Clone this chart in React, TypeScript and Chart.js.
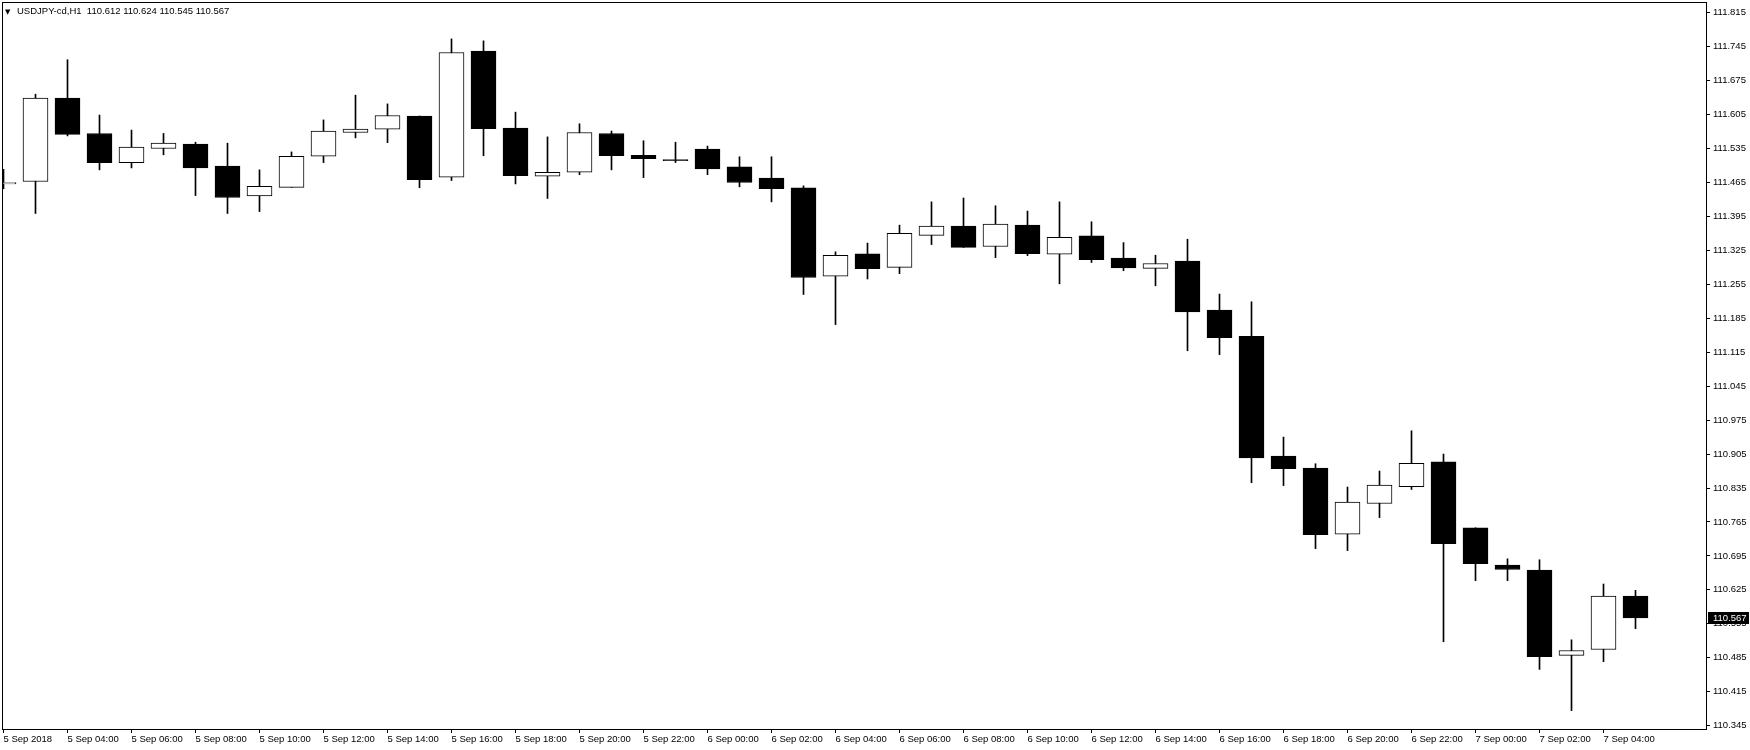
import React, { useEffect, useRef } from 'react';
import { Chart, registerables } from 'chart.js';

Chart.register(...registerables);

const symbolTitle = 'USDJPY-cd,H1';
const lastQuote = ['110.612', '110.624', '110.545', '110.567'];

// hourly bars from 5 Sep 2018 02:00 to 7 Sep 2018 05:00
const opens = [
  111.462, 111.467, 111.639, 111.566, 111.506, 111.535, 111.544, 111.499, 111.437, 111.455,
  111.519, 111.568, 111.575, 111.602, 111.476, 111.736, 111.577, 111.478, 111.486, 111.566,
  111.521, 111.512, 111.534, 111.497, 111.474, 111.454, 111.272, 111.318, 111.290, 111.356,
  111.375, 111.333, 111.377, 111.317, 111.355, 111.309, 111.288, 111.303, 111.202, 111.148,
  110.901, 110.876, 110.740, 110.803, 110.838, 110.889, 110.753, 110.676, 110.666, 110.490,
  110.502, 110.612,
];
const highs = [
  111.492, 111.647, 111.718, 111.604, 111.573, 111.566, 111.548, 111.546, 111.491, 111.528,
  111.594, 111.645, 111.627, 111.602, 111.761, 111.757, 111.610, 111.559, 111.586, 111.571,
  111.551, 111.548, 111.540, 111.518, 111.518, 111.458, 111.322, 111.340, 111.377, 111.425,
  111.433, 111.417, 111.406, 111.425, 111.384, 111.341, 111.315, 111.348, 111.235, 111.219,
  110.940, 110.885, 110.837, 110.870, 110.953, 110.905, 110.753, 110.689, 110.687, 110.522,
  110.637, 110.624,
];
const lows = [
  111.452, 111.401, 111.561, 111.491, 111.495, 111.522, 111.438, 111.401, 111.405, 111.455,
  111.506, 111.557, 111.547, 111.454, 111.469, 111.520, 111.462, 111.432, 111.481, 111.491,
  111.475, 111.506, 111.481, 111.456, 111.425, 111.234, 111.172, 111.266, 111.277, 111.337,
  111.331, 111.310, 111.314, 111.256, 111.300, 111.283, 111.252, 111.118, 111.110, 110.846,
  110.840, 110.710, 110.706, 110.774, 110.832, 110.518, 110.644, 110.644, 110.461, 110.376,
  110.477, 110.545,
];
const closes = [
  111.465, 111.639, 111.564, 111.506, 111.538, 111.546, 111.495, 111.434, 111.457, 111.519,
  111.571, 111.575, 111.603, 111.471, 111.733, 111.576, 111.479, 111.486, 111.568, 111.520,
  111.514, 111.510, 111.493, 111.465, 111.452, 111.269, 111.315, 111.287, 111.360, 111.375,
  111.331, 111.379, 111.318, 111.352, 111.306, 111.289, 111.298, 111.198, 111.145, 110.897,
  110.875, 110.739, 110.806, 110.841, 110.886, 110.720, 110.679, 110.667, 110.487, 110.500,
  110.612, 110.567,
];

const timeTickIndex = [
  0, 2, 4, 6, 8, 10, 12, 14, 16, 18, 20, 22, 24, 26, 28, 30, 32, 34, 36, 38, 40, 42, 44, 46, 48, 50,
];
const timeTickLabels = [
  '5 Sep 2018', '5 Sep 04:00', '5 Sep 06:00', '5 Sep 08:00', '5 Sep 10:00', '5 Sep 12:00',
  '5 Sep 14:00', '5 Sep 16:00', '5 Sep 18:00', '5 Sep 20:00', '5 Sep 22:00', '6 Sep 00:00',
  '6 Sep 02:00', '6 Sep 04:00', '6 Sep 06:00', '6 Sep 08:00', '6 Sep 10:00', '6 Sep 12:00',
  '6 Sep 14:00', '6 Sep 16:00', '6 Sep 18:00', '6 Sep 20:00', '6 Sep 22:00', '7 Sep 00:00',
  '7 Sep 02:00', '7 Sep 04:00',
];
const priceTicks = [
  111.815, 111.745, 111.675, 111.605, 111.535, 111.465, 111.395, 111.325, 111.255, 111.185,
  111.115, 111.045, 110.975, 110.905, 110.835, 110.765, 110.695, 110.625, 110.555, 110.485,
  110.415, 110.345,
];

const PRICE_MIN = 110.3381;
const PRICE_MAX = 111.8371;
const X_MIN = -0.046875;
const X_MAX = 53.203125;

const FONT = 'Liberation Sans';
const FONT_SIZE = 9.5;

const framePlugin = {
  id: 'mtFrame',
  afterDraw(chart: any) {
    const { ctx, chartArea } = chart;
    ctx.save();
    ctx.strokeStyle = '#000';
    ctx.lineWidth = 1;
    ctx.strokeRect(
      Math.round(chartArea.left) + 0.5,
      Math.round(chartArea.top) + 0.5,
      Math.round(chartArea.right - chartArea.left),
      Math.round(chartArea.bottom - chartArea.top)
    );
    // header
    ctx.fillStyle = '#000';
    ctx.font = `7px "DejaVu Sans"`;
    ctx.textBaseline = 'alphabetic';
    ctx.textAlign = 'left';
    ctx.fillText('▼', 5, 13.5);
    ctx.font = `${FONT_SIZE}px "${FONT}"`;
    ctx.fillText(`${symbolTitle}  ${lastQuote.join(' ')}`, 17, 14);
    // current price marker
    const last = closes[closes.length - 1];
    const y = Math.round(chart.scales.y.getPixelForValue(last));
    ctx.fillStyle = '#000';
    ctx.fillRect(chartArea.right + 2, y - 6, 41, 12);
    ctx.fillStyle = '#fff';
    ctx.textBaseline = 'middle';
    ctx.fillText(last.toFixed(3), chartArea.right + 7, y + 0.5);
    ctx.restore();
  },
};

export default function App() {
  const ref = useRef<HTMLCanvasElement>(null);

  useEffect(() => {
    document.body.style.margin = '0';
    const canvas = ref.current;
    if (!canvas) return;
    const bull = closes.map((c, i) => c >= opens[i]);
    const chart = new Chart(canvas, {
      type: 'bar',
      data: {
        datasets: [
          {
            label: 'body',
            data: opens.map((o, i) => ({ x: i, y: [o, closes[i]] })) as any,
            backgroundColor: bull.map((b) => (b ? '#ffffff' : '#000000')),
            borderColor: '#000000',
            borderWidth: 1,
            borderSkipped: false,
            barThickness: 25,
            grouped: false,
            order: 0,
          } as any,
          {
            label: 'wick',
            data: lows.map((l, i) => ({ x: i, y: [l, highs[i]] })) as any,
            backgroundColor: '#000000',
            borderWidth: 0,
            barThickness: 1,
            grouped: false,
            order: 1,
          } as any,
        ],
      },
      options: {
        animation: false,
        responsive: false,
        maintainAspectRatio: false,
        devicePixelRatio: 1,
        layout: { padding: { left: 2, top: 2, right: 0, bottom: 0 }, autoPadding: false } as any,
        plugins: { legend: { display: false }, tooltip: { enabled: false } },
        scales: {
          x: {
            type: 'linear',
            min: X_MIN,
            max: X_MAX,
            offset: false,
            bounds: 'data',
            grid: { offset: false, drawOnChartArea: false, drawTicks: true, tickLength: 4, color: '#000' },
            border: { display: false },
            ticks: {
              align: 'start',
              padding: 1,
              color: '#000',
              font: { family: FONT, size: FONT_SIZE },
              maxRotation: 0,
              minRotation: 0,
              autoSkip: false,
              callback: (v: any) => {
                const k = timeTickIndex.indexOf(Number(v));
                return k >= 0 ? timeTickLabels[k] : '';
              },
            },
            afterBuildTicks: (s: any) => {
              s.ticks = timeTickIndex.map((v) => ({ value: v }));
            },
            afterFit: (s: any) => {
              s.height = 21;
              s.paddingLeft = 0;
              s.paddingRight = 0;
            },
          } as any,
          y: {
            type: 'linear',
            position: 'right',
            min: PRICE_MIN,
            max: PRICE_MAX,
            bounds: 'data',
            grid: { drawOnChartArea: false, drawTicks: true, tickLength: 4, color: '#000' },
            border: { display: false },
            ticks: {
              padding: 3,
              color: '#000',
              font: { family: FONT, size: FONT_SIZE },
              autoSkip: false,
              callback: (v: any) => Number(v).toFixed(3),
            },
            afterBuildTicks: (s: any) => {
              s.ticks = priceTicks.map((v) => ({ value: v }));
            },
            afterFit: (s: any) => {
              s.width = 44;
              s.paddingTop = 0;
              s.paddingBottom = 0;
            },
          } as any,
        },
      },
      plugins: [framePlugin],
    });
    return () => chart.destroy();
  }, []);

  return (
    <div style={{ width: 1750, height: 750, background: '#fff' }}>
      <canvas ref={ref} width={1750} height={750} style={{ display: 'block', width: 1750, height: 750 }} />
    </div>
  );
}
